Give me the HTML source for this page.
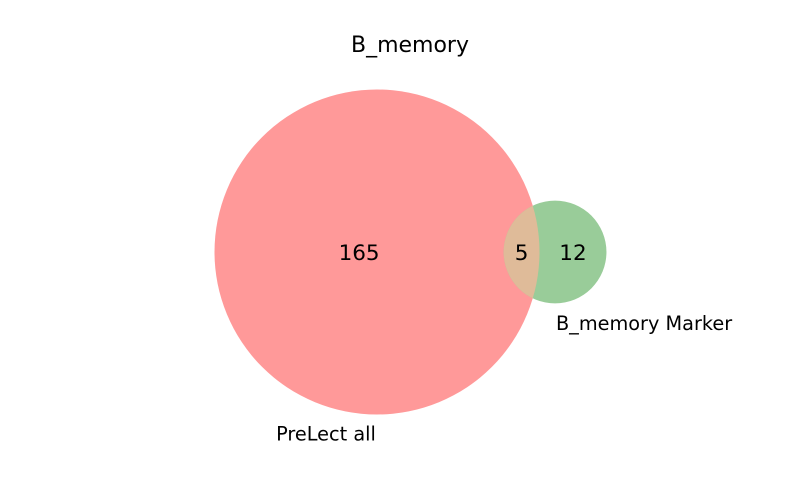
<!DOCTYPE html>
<html><head><meta charset="utf-8"><style>
body{margin:0;background:#fff}
svg{display:block;font-family:"DejaVu Sans","Liberation Sans",sans-serif}
</style></head><body>
<svg id="chart" width="800" height="500" viewBox="0 0 800 500">
<rect width="800" height="500" fill="#fff"/>
<text x="410" y="52" font-size="22" text-anchor="middle" fill="#000">B_memory</text>
<g id="marks"></g>
</svg>
<script>
const setNames = ["PreLect all", "B_memory Marker"];
const regionValues = [165, 12, 5]; // A only, B only, A∩B
const ns = "http://www.w3.org/2000/svg";
const g = document.getElementById("marks");
const totalA = regionValues[0] + regionValues[2];
const totalB = regionValues[1] + regionValues[2];
const k = 162.5 / Math.sqrt(totalA / Math.PI) ;
const rA = Math.sqrt(totalA / Math.PI) * k;
const rB = Math.sqrt(totalB / Math.PI) * k;
const overlapArea = regionValues[2] * k * k;
function lens(d, r1, r2) {
  if (d >= r1 + r2) return 0;
  if (d <= Math.abs(r1 - r2)) return Math.PI * Math.min(r1, r2) ** 2;
  const a = r1*r1*Math.acos((d*d + r1*r1 - r2*r2)/(2*d*r1));
  const b = r2*r2*Math.acos((d*d + r2*r2 - r1*r1)/(2*d*r2));
  const c = 0.5*Math.sqrt((-d+r1+r2)*(d+r1-r2)*(d-r1+r2)*(d+r1+r2));
  return a + b - c;
}
let lo = Math.abs(rA - rB), hi = rA + rB;
for (let i = 0; i < 60; i++) { const m = (lo + hi)/2; if (lens(m, rA, rB) > overlapArea) lo = m; else hi = m; }
const d = (lo + hi)/2;
const cy = 252, cxA = 377, cxB = cxA + d + 1;
function el(tag, attrs, name) {
  const e = document.createElementNS(ns, tag);
  for (const key in attrs) e.setAttribute(key, attrs[key]);
  
  
  g.appendChild(e);
  return e;
}
const defs = document.createElementNS(ns, "defs");
defs.innerHTML = `<clipPath id="clipA"><circle cx="${cxA}" cy="${cy}" r="${rA}"/></clipPath>`;
g.appendChild(defs);
el("circle", {cx: cxA, cy: cy, r: rA, fill: "#ff9999"}, "circle-prelect-all");
el("circle", {cx: cxB, cy: cy, r: rB, fill: "#99cc99"}, "circle-b-memory-marker");
el("circle", {cx: cxB, cy: cy, r: rB, fill: "#dfbb99", "clip-path": "url(#clipA)"}, "intersection-region");
function txt(x, y, s, size, name) {
  const t = el("text", {x: x, y: y, "font-size": size, "text-anchor": "middle", fill: "#000"}, name);
  t.textContent = s;
}
const lA = cxA - rA, rAe = cxA + rA, lB = cxB - rB, rBe = cxB + rB;
txt((lA + lB)/2, cy + 8, String(regionValues[0]), 21.5, "label-prelect-only");
txt((rAe + rBe)/2, cy + 8, String(regionValues[1]), 21.5, "label-marker-only");
txt((lB + rAe)/2, cy + 8, String(regionValues[2]), 21.5, "label-intersection");
txt(cxA - 51, cy + rA + 26, setNames[0], 19.3, "set-label-prelect-all");
txt(cxB + 89, cy + 78, setNames[1], 19.3, "set-label-b-memory-marker");
</script>
</body></html>
